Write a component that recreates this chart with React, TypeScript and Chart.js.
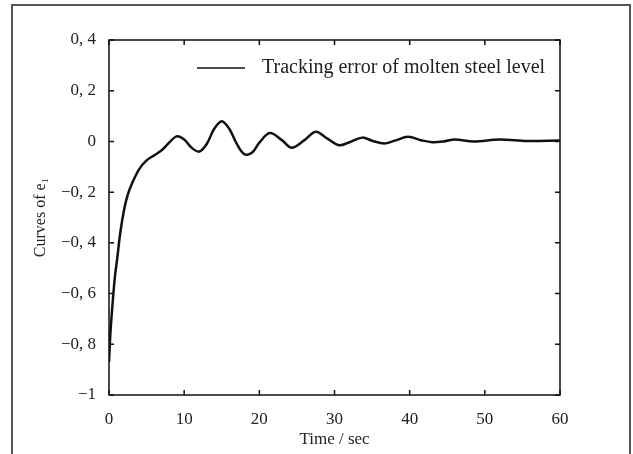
import { useEffect, useRef } from 'react';
import { Chart, registerables } from 'chart.js';

Chart.register(...registerables);

// ---- data ----
const timeSec = [
  0, 0.2, 0.5, 0.8, 1.1, 1.5, 2, 2.5, 3, 4, 5, 6, 7, 8, 9, 10, 11, 12, 13, 14,
  15, 16, 17, 18, 19, 20, 21.4, 23, 24.3, 26, 27.5, 29, 30.6, 32, 33.7, 35,
  36.6, 38, 39.8, 41.5, 43, 44.5, 46, 48.5, 52, 55.6, 60,
];
const trackingError = [
  -0.87, -0.75, -0.63, -0.53, -0.46, -0.36, -0.27, -0.21, -0.17, -0.11,
  -0.075, -0.055, -0.035, -0.005, 0.02, 0.008, -0.025, -0.04, -0.01, 0.05,
  0.08, 0.05, -0.01, -0.05, -0.045, -0.005, 0.033, 0.005, -0.025, 0.005,
  0.038, 0.012, -0.015, -0.003, 0.015, 0.003, -0.008, 0.003, 0.018, 0.005,
  -0.003, 0.0, 0.008, 0.0, 0.008, 0.002, 0.004,
];
const xTickValues = [0, 10, 20, 30, 40, 50, 60];
const xTickLabels = ['0', '10', '20', '30', '40', '50', '60'];
const yTickValues = [-1, -0.8, -0.6, -0.4, -0.2, 0, 0.2, 0.4];
const yTickLabels = ['\u22121', '\u22120, 8', '\u22120, 6', '\u22120, 4', '\u22120, 2', '0', '0, 2', '0, 4'];
const seriesLabel = 'Tracking error of molten steel level';
const xTitle = 'Time / sec';
const yTitle = 'Curves of e\u2081';

const FONT = '"Liberation Serif", "DejaVu Serif", serif';

const framePlugin = {
  id: 'frameTicks',
  afterDatasetsDraw(chart: any) {
    const { ctx, chartArea, scales } = chart;
    const { left, right, top, bottom } = chartArea;
    const x = scales.x;
    const y = scales.y;
    ctx.save();
    ctx.strokeStyle = '#111';
    ctx.lineWidth = 1.5;
    ctx.strokeRect(left, top, right - left, bottom - top);
    ctx.beginPath();
    const tl = 5;
    xTickValues.forEach((v) => {
      const px = x.getPixelForValue(v);
      ctx.moveTo(px, bottom);
      ctx.lineTo(px, bottom - tl);
      ctx.moveTo(px, top);
      ctx.lineTo(px, top + tl);
    });
    yTickValues.forEach((v) => {
      const py = y.getPixelForValue(v);
      ctx.moveTo(left, py);
      ctx.lineTo(left + tl, py);
      ctx.moveTo(right, py);
      ctx.lineTo(right - tl, py);
    });
    ctx.stroke();

    // legend
    const ds = chart.data.datasets[0];
    const ly = top + 28;
    ctx.beginPath();
    ctx.lineWidth = 1.5;
    ctx.strokeStyle = '#111';
    ctx.moveTo(left + 88, ly);
    ctx.lineTo(left + 136, ly);
    ctx.stroke();
    ctx.fillStyle = '#222';
    ctx.font = '20px ' + FONT;
    ctx.textAlign = 'left';
    ctx.textBaseline = 'middle';
    ctx.fillText(ds.label, left + 153, ly);
    ctx.restore();
  },
};

export default function App() {
  const ref = useRef<HTMLCanvasElement | null>(null);

  useEffect(() => {
    if (!ref.current) return;
    const chart = new Chart(ref.current, {
      type: 'line',
      data: {
        datasets: [
          {
            label: seriesLabel,
            data: timeSec.map((t, i) => ({ x: t, y: trackingError[i] })),
            borderColor: '#111',
            borderWidth: 2.5,
            pointRadius: 0,
            fill: false,
            tension: 0.35,
          },
        ],
      },
      options: {
        animation: false,
        responsive: false,
        maintainAspectRatio: false,
        layout: { padding: { left: 0, right: 73, top: 40, bottom: 0 } },
        plugins: {
          legend: { display: false },
          tooltip: { enabled: false },
        },
        scales: {
          x: {
            type: 'linear',
            min: 0,
            max: 60,
            afterBuildTicks: (s: any) => {
              s.ticks = xTickValues.map((v) => ({ value: v }));
            },
            afterFit: (s: any) => {
              s.height = 59;
            },
            grid: { display: false },
            border: { display: false },
            ticks: {
              color: '#222',
              padding: 6,
              maxRotation: 0,
              font: { family: FONT, size: 17 },
              callback: (v: any) => {
                const i = xTickValues.indexOf(Number(v));
                return i >= 0 ? xTickLabels[i] : '';
              },
            },
            title: {
              display: true,
              text: xTitle,
              color: '#222',
              font: { family: FONT, size: 17 },
              padding: { top: 0, bottom: 4 },
            },
          },
          y: {
            type: 'linear',
            min: -1,
            max: 0.4,
            afterBuildTicks: (s: any) => {
              s.ticks = yTickValues.map((v) => ({ value: v }));
            },
            afterFit: (s: any) => {
              s.width = 109;
            },
            grid: { display: false },
            border: { display: false },
            ticks: {
              color: '#222',
              padding: 5,
              font: { family: FONT, size: 17 },
              callback: (v: any) => {
                const i = yTickValues.findIndex((t) => Math.abs(t - Number(v)) < 1e-6);
                return i >= 0 ? yTickLabels[i] : '';
              },
            },
            title: {
              display: true,
              text: yTitle,
              color: '#222',
              font: { family: FONT, size: 16 },
              padding: { top: 31, bottom: 0 },
            },
          },
        },
      },
      plugins: [framePlugin],
    } as any);
    return () => chart.destroy();
  }, []);

  return (
    <div style={{ position: 'absolute', left: 0, top: 0, width: 633, height: 454, overflow: 'hidden', background: '#fff' }}>
      <canvas ref={ref} width={633} height={454} style={{ display: 'block' }} />
      <div
        style={{
          position: 'absolute',
          left: 11,
          top: 4,
          width: 616,
          height: 470,
          border: '2px solid #555',
          pointerEvents: 'none',
        }}
      />
    </div>
  );
}
